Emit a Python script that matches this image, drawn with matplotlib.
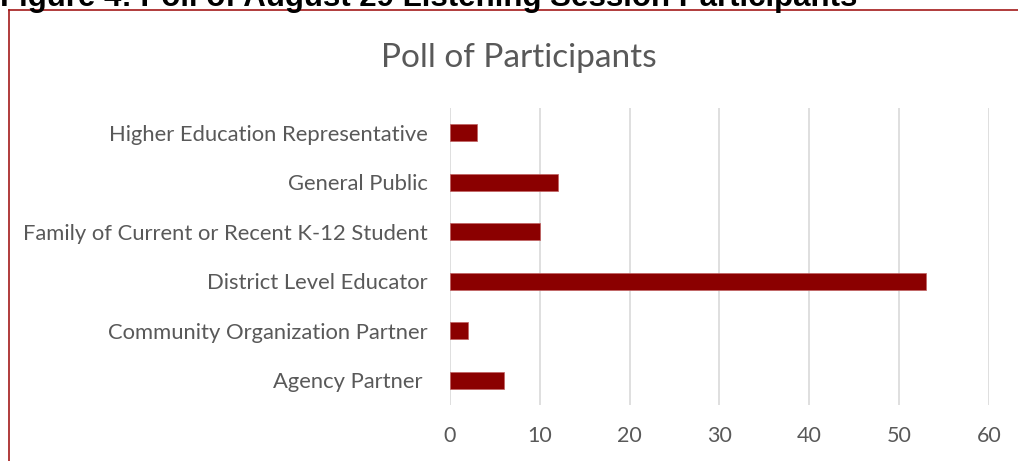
import matplotlib
matplotlib.use("Agg")
import matplotlib.pyplot as plt
from matplotlib.lines import Line2D

categories = [
    "Agency Partner ",
    "Community Organization Partner",
    "District Level Educator",
    "Family of Current or Recent K-12 Student",
    "General Public",
    "Higher Education Representative",
]
counts = [6, 2, 53, 10, 12, 3]
x_ticks = [0, 10, 20, 30, 40, 50, 60]

BAR = "#8b0000"
TEXT = "#595959"
GRID = "#d9d9d9"
FRAME = "#a31a1a"

plt.rcParams["font.family"] = ["Lato", "DejaVu Sans"]

fig = plt.figure(figsize=(10.18, 4.61), dpi=100)
ax = fig.add_axes([0.442, 0.1215, 0.5295, 0.6442])

ypos = list(range(len(categories)))
ax.barh(ypos, counts, height=0.35, color=BAR, edgecolor="#c06060", linewidth=0.5, zorder=3)

ax.set_xlim(0, 60)
ax.set_ylim(-0.5, len(categories) - 0.5)
ax.set_xticks(x_ticks)
ax.set_yticks(ypos)
ax.set_yticklabels(categories)
ax.tick_params(axis="both", length=0, colors=TEXT)
ax.tick_params(axis="y", pad=16, labelsize=15.8)
ax.tick_params(axis="x", pad=15, labelsize=15.5)
ax.grid(axis="x", color=GRID, linewidth=1.2, zorder=0)
for s in ax.spines.values():
    s.set_visible(False)

fig.text(0.51, 0.875, "Poll of Participants", ha="center", va="center",
         fontsize=24, color=TEXT)

# caption above the framed chart
fig.text(0.0, 1 - 6 / 461, "Figure 4: Poll of August 29 Listening Session Participants",
         ha="left", va="baseline", fontsize=22.5, fontweight="bold",
         family=["Liberation Sans", "DejaVu Sans"], color="black")

# frame around the chart
fig.add_artist(Line2D([9 / 1018, 1], [1 - 10 / 461, 1 - 10 / 461],
                      transform=fig.transFigure, color=FRAME, linewidth=1.2))
fig.add_artist(Line2D([9 / 1018, 9 / 1018], [0, 1 - 10 / 461],
                      transform=fig.transFigure, color=FRAME, linewidth=1.2))

fig.savefig("out.png", dpi=100)
